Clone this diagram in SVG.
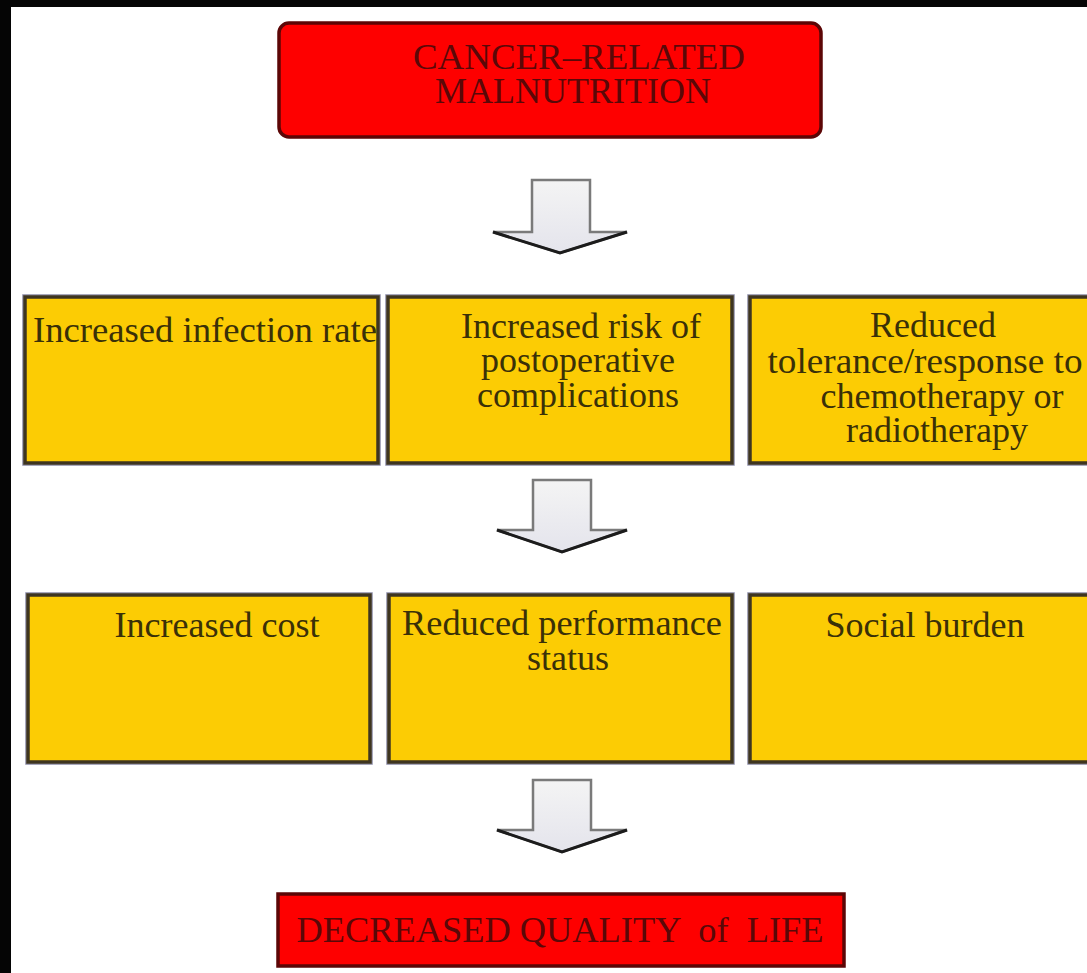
<svg xmlns="http://www.w3.org/2000/svg" width="1087" height="973" viewBox="0 0 1087 973">
<style>
.y{fill:#fccc04;stroke:#3e3520;stroke-width:3.5}
.yo{fill:none;stroke:#8c8ca6;stroke-width:1.5}
.r{fill:#fe0000;stroke:#5c0606;stroke-width:3.5}
.ty{font-family:"Liberation Serif",serif;font-size:36px;fill:#3a3008;text-anchor:middle}
.tr{font-family:"Liberation Serif",serif;font-size:36px;fill:#5a0808;text-anchor:middle}
.ar{fill:url(#ag);stroke:#7a7a7a;stroke-width:2.5;stroke-linejoin:miter}
.as{fill:none;stroke:#1c1c1c;stroke-width:3}
</style>
<defs>
<linearGradient id="ag" x1="0" y1="0" x2="0" y2="1">
<stop offset="0" stop-color="#f4f4f4"/>
<stop offset="1" stop-color="#e4e4ec"/>
</linearGradient>
</defs>
<rect x="0" y="0" width="1087" height="973" fill="#ffffff"/>
<rect x="0" y="0" width="11" height="973" fill="#050505"/>
<rect x="0" y="0" width="1087" height="7" fill="#050505"/>

<g id="connectors">
<g id="arrow1">
<polygon class="ar" points="532,180 590,180 590,232 627,232 560,253 493,232 532,232"/>
<polyline class="as" points="493,232 560,253 627,232"/>
</g>
<g id="arrow2">
<polygon class="ar" points="533,480 591,480 591,530 627,530 562,552 497,530 533,530"/>
<polyline class="as" points="497,530 562,552 627,530"/>
</g>
<g id="arrow3">
<polygon class="ar" points="533,780 591,780 591,830 627,830 562,852 497,830 533,830"/>
<polyline class="as" points="497,830 562,852 627,830"/>
</g>
</g>

<g id="top">
<rect class="r" x="279" y="23" width="542" height="114" rx="10"/>
<text class="tr" x="579" y="69" textLength="332" lengthAdjust="spacingAndGlyphs">CANCER–RELATED</text>
<text class="tr" x="573" y="103" textLength="276" lengthAdjust="spacingAndGlyphs">MALNUTRITION</text>
</g>

<g id="n1">
<rect class="yo" x="23" y="295" width="357" height="170"/>
<rect class="y" x="25" y="297" width="353" height="166"/>
<text class="ty" x="205" y="342" textLength="344" lengthAdjust="spacingAndGlyphs">Increased infection rate</text>
</g>
<g id="n2">
<rect class="yo" x="386" y="295" width="348" height="170"/>
<rect class="y" x="388" y="297" width="344" height="166"/>
<text class="ty" x="581" y="338">Increased risk of</text>
<text class="ty" x="578" y="372">postoperative</text>
<text class="ty" x="578" y="407">complications</text>
</g>
<g id="n3">
<rect class="yo" x="748" y="295" width="360" height="170"/>
<rect class="y" x="750" y="297" width="356" height="166"/>
<text class="ty" x="933" y="337">Reduced</text>
<text class="ty" x="925" y="373" textLength="315" lengthAdjust="spacingAndGlyphs">tolerance/response to</text>
<text class="ty" x="942" y="408">chemotherapy or</text>
<text class="ty" x="937" y="442">radiotherapy</text>
</g>

<g id="n4">
<rect class="yo" x="26" y="593" width="346" height="171"/>
<rect class="y" x="28" y="595" width="342" height="167"/>
<text class="ty" x="217" y="637">Increased cost</text>
</g>
<g id="n5">
<rect class="yo" x="387" y="593" width="347" height="171"/>
<rect class="y" x="389" y="595" width="343" height="167"/>
<text class="ty" x="562" y="635" textLength="320" lengthAdjust="spacingAndGlyphs">Reduced performance</text>
<text class="ty" x="568" y="670">status</text>
</g>
<g id="n6">
<rect class="yo" x="748" y="593" width="360" height="171"/>
<rect class="y" x="750" y="595" width="356" height="167"/>
<text class="ty" x="925" y="637">Social burden</text>
</g>

<g id="bottom">
<rect class="r" x="278" y="894" width="566" height="72"/>
<text class="tr" x="560" y="942" textLength="527" lengthAdjust="spacingAndGlyphs" xml:space="preserve">DECREASED QUALITY  of  LIFE</text>
</g>
</svg>
